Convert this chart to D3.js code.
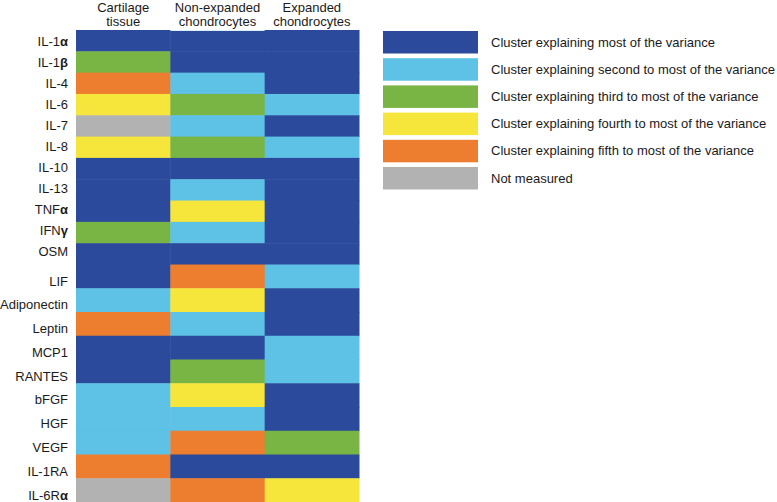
<!DOCTYPE html>
<html>
<head>
<meta charset="utf-8">
<script src="https://cdn.jsdelivr.net/npm/d3@7/dist/d3.min.js"></script>
<style>
  html, body { margin: 0; padding: 0; background: #ffffff; }
  svg { display: block; }
  text { font-family: "Liberation Sans", Arial, Helvetica, sans-serif; fill: #1a1a1a; }
</style>
</head>
<body>
<svg id="chart" width="777" height="502"></svg>
<script>
// ---- data ----
const columns = ["Cartilage tissue", "Non-expanded chondrocytes", "Expanded chondrocytes"];
const columnLines = [["Cartilage", "tissue"], ["Non-expanded", "chondrocytes"], ["Expanded", "chondrocytes"]];
// label parts: [plain, bold-greek]
const rowLabels = [
  ["IL-1", "α"], ["IL-1", "β"], ["IL-4", ""], ["IL-6", ""], ["IL-7", ""], ["IL-8", ""],
  ["IL-10", ""], ["IL-13", ""], ["TNF", "α"], ["IFN", "γ"], ["OSM", ""],
  ["LIF", ""], ["Adiponectin", ""], ["Leptin", ""], ["MCP1", ""], ["RANTES", ""],
  ["bFGF", ""], ["HGF", ""], ["VEGF", ""], ["IL-1RA", ""], ["IL-6R", "α"]
];
// cluster codes: 1 most, 2 second, 3 third, 4 fourth, 5 fifth, 0 not measured
const cartilage   = [1,3,5,4,0,4,1,1,1,3,1, 1,2,5,1,1,2,2,2,5,0];
const nonExpanded = [1,1,2,3,2,3,1,2,4,2,1, 5,4,2,1,3,4,2,5,1,5];
const expanded    = [1,1,1,2,1,2,1,1,1,1,1, 2,1,1,2,2,1,1,3,1,4];
const legendCodes = [1,2,3,4,5,0];
const legendLabels = [
  "Cluster explaining most of the variance",
  "Cluster explaining second to most of the variance",
  "Cluster explaining third to most of the variance",
  "Cluster explaining fourth to most of the variance",
  "Cluster explaining fifth to most of the variance",
  "Not measured"
];
const palette = {1: "#2b4a9b", 2: "#5ec1e6", 3: "#79b545", 4: "#f6e53b", 5: "#ed7d2f", 0: "#b2b2b2"};

// ---- layout ----
const svg = d3.select("#chart");
const series = [cartilage, nonExpanded, expanded];
const nRows = rowLabels.length;

const x = d3.scaleBand().domain(d3.range(columns.length)).range([76, 359]);
// rows in the upper block are slightly shorter than in the lower block
const yEdge = d3.scaleLinear().domain([0, 11, nRows]).range([30, 264.5, 502]);
const yLabel = d3.scaleLinear().domain([0, 10, 11, nRows - 1]).range([45.5, 255.5, 285.5, 499.5]);
const color = d3.scaleOrdinal().domain(Object.keys(palette).map(Number)).range(Object.values(palette));

const cells = [];
series.forEach((s, c) => s.forEach((v, r) => cells.push({c, r, v})));

svg.append("g").selectAll("rect").data(cells).join("rect")
  .attr("x", d => x(d.c))
  .attr("y", d => yEdge(d.r))
  .attr("width", x.bandwidth() + 0.5)
  .attr("height", d => yEdge(d.r + 1) - yEdge(d.r) + 0.5)
  .attr("fill", d => color(d.v));

// faint highlight line above the middle column
svg.append("line")
  .attr("x1", x(1)).attr("x2", x(1) + x.bandwidth())
  .attr("y1", 30.5).attr("y2", 30.5)
  .attr("stroke", "#d9eef8").attr("stroke-width", 1);

// column headers
const hdr = svg.append("g").selectAll("text").data(columnLines).join("text")
  .attr("text-anchor", "middle")
  .attr("font-size", 13)
  .attr("x", (d, i) => x(i) + x.bandwidth() / 2);
hdr.selectAll("tspan").data(d => d).join("tspan")
  .attr("x", function() { return d3.select(this.parentNode).attr("x"); })
  .attr("y", (d, i) => 11.5 + i * 14.5)
  .text(d => d);

// row labels
const lab = svg.append("g").selectAll("text").data(rowLabels).join("text")
  .attr("text-anchor", "end")
  .attr("font-size", 13)
  .attr("x", 68)
  .attr("y", (d, i) => yLabel(i));
lab.append("tspan").text(d => d[0]);
lab.append("tspan").attr("font-weight", "bold").text(d => d[1]);

// legend
const lg = svg.append("g").selectAll("g").data(legendCodes).join("g")
  .attr("transform", (d, i) => `translate(383, ${31 + i * 27.2})`);
lg.append("rect").attr("width", 95).attr("height", 22.5).attr("fill", d => color(d));
lg.append("text").attr("x", 108).attr("y", 15.5).attr("font-size", 13)
  .text((d, i) => legendLabels[i]);
</script>
</body>
</html>
